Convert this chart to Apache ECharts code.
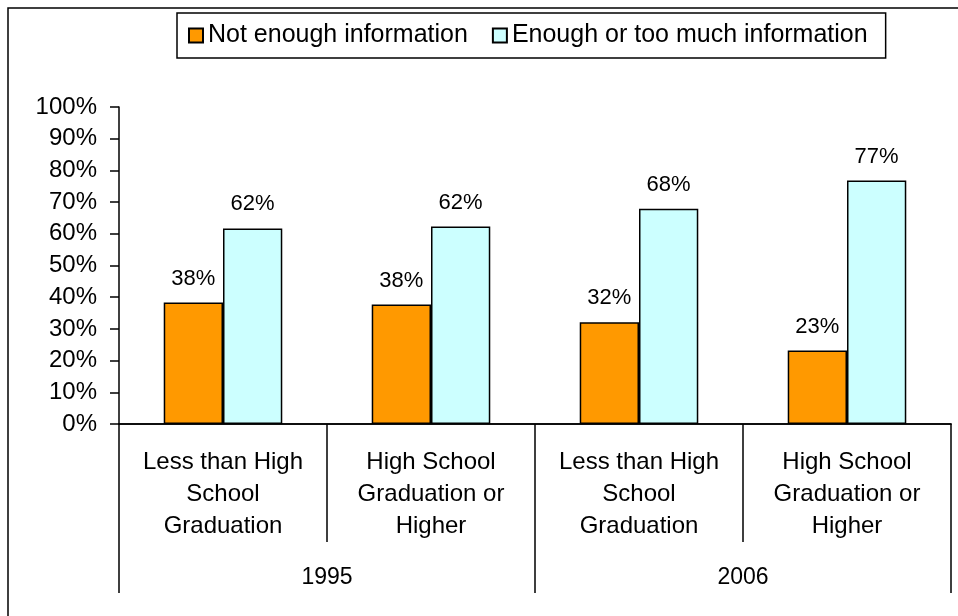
<!DOCTYPE html>
<html>
<head>
<meta charset="utf-8">
<script src="https://cdn.jsdelivr.net/npm/echarts@6/dist/echarts.min.js"></script>
<style>
html,body{margin:0;padding:0;background:#fff;}
#chart{width:958px;height:616px;}
</style>
</head>
<body>
<div id="chart"></div>
<script>
const categories = [
  'Less than High\nSchool\nGraduation',
  'High School\nGraduation or\nHigher',
  'Less than High\nSchool\nGraduation',
  'High School\nGraduation or\nHigher'
];
const years = ['1995', '2006'];
const seriesNames = ['Not enough information', 'Enough or too much information'];
const notEnough = [38.3, 37.7, 32.1, 23.2];
const enough = [61.7, 62.3, 67.9, 76.8];
const yTicks = { min: 0, max: 100, interval: 10 };

const FONT = 'Liberation Sans, Arial, sans-serif';
const chart = echarts.init(document.getElementById('chart'), null, { renderer: 'canvas' });

const labelCfg = {
  show: true,
  position: 'top',
  distance: 13,
  color: '#000',
  fontSize: 22,
  fontFamily: FONT,
  formatter: p => Math.round(p.value) + '%'
};

chart.setOption({
  animation: false,
  backgroundColor: '#fff',
  graphic: [{
    type: 'rect',
    z: -10,
    shape: { x: 8, y: 8, width: 1000, height: 1000 },
    style: { fill: 'none', stroke: '#000', lineWidth: 1.5 }
  }],
  legend: {
    data: seriesNames,
    left: 177,
    top: 13,
    orient: 'horizontal',
    icon: 'rect',
    itemWidth: 14,
    itemHeight: 14,
    itemGap: 24,
    borderColor: '#000',
    borderWidth: 1.5,
    padding: [10, 18, 10, 11],
    textStyle: { fontSize: 25, color: '#000', fontFamily: FONT }
  },
  grid: { left: 119, right: 7, top: 107, bottom: 192, containLabel: false },
  xAxis: [{
    type: 'category',
    data: categories,
    position: 'bottom',
    axisLine: { show: true, lineStyle: { color: '#000', width: 1.5 } },
    axisTick: { show: true, interval: 0, length: 118, lineStyle: { color: '#000', width: 1.5 } },
    axisLabel: { interval: 0, color: '#000', fontSize: 24, lineHeight: 32, margin: 22, fontFamily: FONT }
  }, {
    type: 'category',
    data: years,
    position: 'bottom',
    axisLine: { show: true, lineStyle: { color: '#000', width: 1.5 } },
    axisTick: { show: true, interval: 0, length: 169, lineStyle: { color: '#000', width: 1.5 } },
    axisLabel: { interval: 0, color: '#000', fontSize: 23, margin: 142, fontFamily: FONT }
  }],
  yAxis: {
    type: 'value',
    min: yTicks.min,
    max: yTicks.max,
    interval: yTicks.interval,
    axisLine: { show: true, lineStyle: { color: '#000', width: 1.5 } },
    axisTick: { show: true, length: 9, lineStyle: { color: '#000', width: 1.5 } },
    splitLine: { show: false },
    axisLabel: { formatter: '{value}%', color: '#000', fontSize: 24, margin: 22, fontFamily: FONT }
  },
  series: [{
    name: seriesNames[0],
    type: 'bar',
    xAxisIndex: 0,
    data: notEnough,
    barGap: '0%',
    barCategoryGap: '43%',
    itemStyle: { color: '#FF9900', borderColor: '#000', borderWidth: 1.5 },
    label: labelCfg
  }, {
    name: seriesNames[1],
    type: 'bar',
    xAxisIndex: 0,
    data: enough,
    barGap: '0%',
    barCategoryGap: '43%',
    itemStyle: { color: '#CCFFFF', borderColor: '#000', borderWidth: 1.5 },
    label: labelCfg
  }]
});
</script>
</body>
</html>
